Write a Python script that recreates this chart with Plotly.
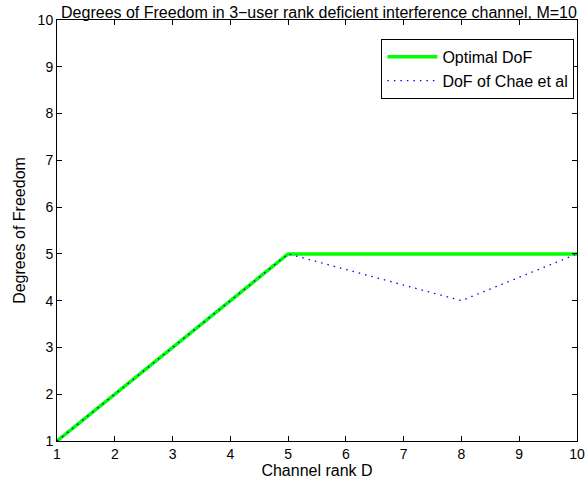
import plotly.graph_objects as go

D = [1, 2, 3, 4, 5, 6, 7, 8, 9, 10]
optimal_dof = [1, 2, 3, 4, 5, 5, 5, 5, 5, 5]
chae_D = [1, 2, 3, 4, 5, 8, 10]
chae_dof = [1, 2, 3, 4, 5, 4, 5]
ticks = list(range(1, 11))

font = "Liberation Sans, Arial, Helvetica, sans-serif"

fig = go.Figure()
fig.add_trace(go.Scatter(x=D, y=optimal_dof, mode="lines", name="Optimal DoF",
                         line=dict(color="#00FF00", width=3.5)))
fig.add_trace(go.Scatter(x=chae_D, y=chae_dof, mode="lines", name="DoF of Chae et al",
                         line=dict(color="#0000FF", width=1.3, dash="1.5px,5px")))

axis_common = dict(showgrid=False, zeroline=False, showline=True, linecolor="black",
                   linewidth=1, mirror="ticks", ticks="inside", ticklen=5,
                   tickcolor="black", automargin=False,
                   tickfont=dict(size=14, color="black", family=font))

fig.update_layout(
    width=587, height=482,
    margin=dict(l=57, r=10, t=20, b=41),
    paper_bgcolor="white", plot_bgcolor="white",
    font=dict(family=font, size=14, color="black"),
    title=dict(text="Degrees of Freedom in 3\u2212user rank deficient interference channel, M=10",
               x=0.5434, xanchor="center", y=0.975, yanchor="middle",
               font=dict(size=16, color="black", family=font)),
    xaxis=dict(range=[1, 10], tickvals=ticks, title=dict(text="Channel rank D", standoff=2,
               font=dict(size=16)), **axis_common),
    yaxis=dict(range=[1, 10], tickvals=ticks, title=dict(text="Degrees of Freedom", standoff=8,
               font=dict(size=16)), **axis_common),
    legend=dict(x=0.995, y=0.955, xanchor="right", yanchor="top",
                bgcolor="white", bordercolor="black", borderwidth=1,
                itemwidth=50,
                font=dict(size=16, family=font), tracegroupgap=0),
    showlegend=True,
)

fig.write_html("out.html", config={"displayModeBar": False},
               post_script="document.body.style.margin='0px';")
